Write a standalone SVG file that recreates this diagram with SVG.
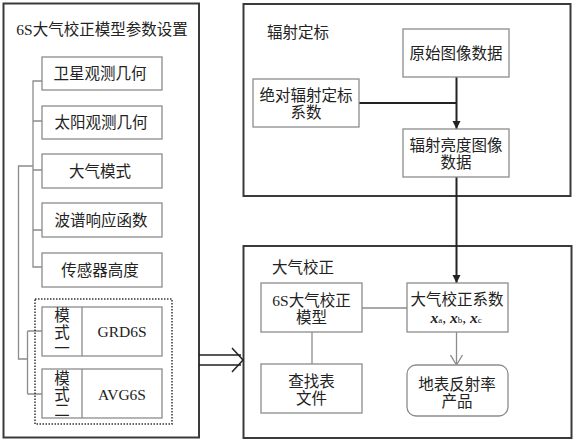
<svg xmlns="http://www.w3.org/2000/svg" width="575" height="443" viewBox="0 0 575 443">
<style>
text{font-family:"Liberation Serif","Noto Sans CJK SC",serif;font-size:15.5px;fill:#222;text-anchor:middle;dominant-baseline:central}
.outer{fill:#fff;stroke:#3a3a3a;stroke-width:2}
.box{fill:#fff;stroke:#8c8c8c;stroke-width:1.3}
.gl{fill:none;stroke:#8c8c8c;stroke-width:1.3}
.bl{fill:none;stroke:#222;stroke-width:2}
.lbl{text-anchor:start}
</style>
<defs>
<marker id="fa" viewBox="0 0 8 10" refX="8" refY="5" markerWidth="8" markerHeight="10" markerUnits="userSpaceOnUse" orient="auto">
<path d="M0,1 L8,5 L0,9 Z" fill="#222"/>
</marker>
<marker id="va" viewBox="0 0 10 14" refX="10" refY="7" markerWidth="10" markerHeight="14" markerUnits="userSpaceOnUse" orient="auto">
<path d="M0,1 L10,7 L0,13" fill="none" stroke="#8c8c8c" stroke-width="1.3"/>
</marker>
</defs>
<rect width="575" height="443" fill="#fff"/>

<g id="panel-left">
<rect class="outer" x="3.5" y="3.5" width="195.5" height="434"/>
<text x="102" y="29" font-size="16">6S大气校正模型参数设置</text>
</g>
<g id="panel-calib">
<rect class="outer" x="243.5" y="4" width="327" height="192"/>
<text class="lbl" x="267" y="32">辐射定标</text>
</g>
<g id="panel-atm">
<rect class="outer" x="243.5" y="246" width="328" height="192"/>
<text class="lbl" x="272" y="267">大气校正</text>
</g>

<g id="connectors">
<path class="gl" d="M42,81 H33 V267 H42 M33,121 H42 M33,170 H42 M33,230 H42"/>
<path class="gl" d="M33,166 H18.5 V359 H27.5 M27.5,331 V394 M27.5,331 H42 M27.5,394 H42"/>
<path d="M199,355 H241 M199,365 H241" fill="none" stroke="#222" stroke-width="1.5"/>
<path d="M232,348 L243,360 L232,372" fill="none" stroke="#222" stroke-width="1.5"/>
<path class="bl" d="M359,103 H456.5"/>
<path class="bl" d="M456.5,77 V129" marker-end="url(#fa)"/>
<path class="bl" d="M456.5,177 V283" marker-end="url(#fa)"/>
<path class="gl" d="M362,308 H407"/>
<path class="gl" d="M312,332 V364"/>
<path class="gl" d="M456.5,332 V365" marker-end="url(#va)"/>
</g>

<g id="n-sat"><rect class="box" x="42" y="57" width="120" height="33"/><text x="100" y="73.5">卫星观测几何</text></g>
<g id="n-sun"><rect class="box" x="42" y="106" width="120" height="33"/><text x="101" y="122.5">太阳观测几何</text></g>
<g id="n-atmmode"><rect class="box" x="42" y="154" width="120" height="34"/><text x="100" y="171">大气模式</text></g>
<g id="n-srf"><rect class="box" x="42" y="203" width="120" height="34"/><text x="101" y="220">波谱响应函数</text></g>
<g id="n-height"><rect class="box" x="42" y="253" width="120" height="34"/><text x="100" y="270">传感器高度</text></g>

<g id="n-modes">
<rect x="35" y="299" width="137" height="125" fill="none" stroke="#333" stroke-width="1.5" stroke-dasharray="1.5,1.5"/>
</g>
<g id="n-grd">
<rect class="box" x="42" y="307" width="120" height="49"/>
<path class="gl" d="M82,307 V356"/>
<text x="62" y="315.5">模</text><text x="62" y="332">式</text><text x="62" y="348.5">一</text>
<text x="122" y="331.5">GRD6S</text>
</g>
<g id="n-avg">
<rect class="box" x="42" y="369" width="120" height="49"/>
<path class="gl" d="M82,369 V418"/>
<text x="62" y="378">模</text><text x="62" y="394">式</text><text x="62" y="410">二</text>
<text x="122" y="394.5">AVG6S</text>
</g>

<g id="n-raw"><rect class="box" x="403" y="29" width="106" height="48"/><text x="456" y="53">原始图像数据</text></g>
<g id="n-abscal"><rect class="box" x="253" y="79" width="106" height="48"/><text x="306" y="95">绝对辐射定标</text><text x="306" y="112">系数</text></g>
<g id="n-rad"><rect class="box" x="403" y="129" width="106" height="48"/><text x="456" y="145">辐射亮度图像</text><text x="456" y="162">数据</text></g>

<g id="n-6s"><rect class="box" x="261" y="283" width="101" height="49"/><text x="311.5" y="300">6S大气校正</text><text x="311.5" y="317">模型</text></g>
<g id="n-coef"><rect class="box" x="407" y="283" width="101" height="49"/><text x="457" y="299">大气校正系数</text>
<text x="456" y="317" font-size="13"><tspan font-style="italic" font-weight="bold">x</tspan><tspan font-size="9" dy="3">a</tspan><tspan dy="-3">, </tspan><tspan font-style="italic" font-weight="bold">x</tspan><tspan font-size="9" dy="3">b</tspan><tspan dy="-3">, </tspan><tspan font-style="italic" font-weight="bold">x</tspan><tspan font-size="9" dy="3">c</tspan></text></g>
<g id="n-lut"><rect class="box" x="261" y="364" width="101" height="49"/><text x="311.5" y="381">查找表</text><text x="311.5" y="398">文件</text></g>
<g id="n-refl"><rect class="box" x="407" y="365" width="101" height="51" rx="9"/><text x="457" y="384">地表反射率</text><text x="457" y="401">产品</text></g>
</svg>
